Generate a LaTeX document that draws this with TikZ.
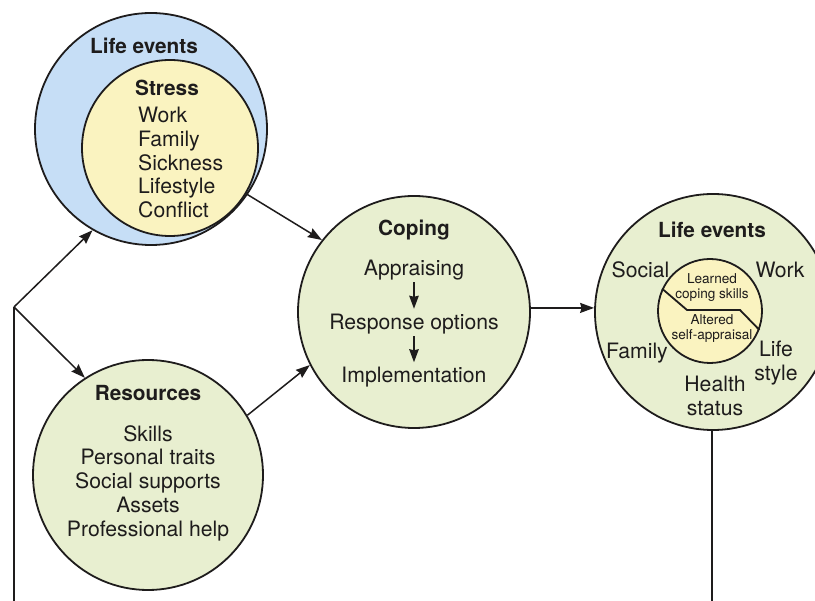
\documentclass[tikz,border=0pt]{standalone}
\usepackage{fontspec}
\setmainfont{TeX Gyre Heros}
\usetikzlibrary{arrows.meta}
\definecolor{lifeblue}{RGB}{198,222,246}
\definecolor{stressyellow}{RGB}{250,243,192}
\definecolor{copegreen}{RGB}{232,239,208}
\definecolor{ink}{RGB}{30,28,28}
\tikzset{
  ring/.style={circle, draw=ink, line width=1.8pt, inner sep=0pt},
  txt/.style={text=ink, inner sep=0pt, font=\fontsize{21.2}{23.75}\selectfont},
  head/.style={text=ink, inner sep=0pt, font=\fontsize{20.8}{23.75}\selectfont\bfseries},
  small/.style={text=ink, inner sep=0pt, align=center, font=\fontsize{13.6}{15.6}\selectfont},
  link/.style={draw=ink, line width=1.5pt},
  arr/.style={link, -{Stealth[length=14pt,width=10pt,inset=1.5pt]}},
  step arrow/.style={link, -{Stealth[length=13pt,width=9.5pt,inset=1pt]}},
}
\begin{document}
\begin{tikzpicture}[x=1pt,y=-1pt]
\useasboundingbox (0,0) rectangle (815,601);
\clip (0,0) rectangle (815,601);

% Life events with stress inside
\node[ring, fill=lifeblue, minimum size=232pt] (lifeO) at (151,129) {};
\node[ring, fill=stressyellow, minimum size=176pt] (stress) at (170,148) {};
\node[head] (lifeT) at (144,46) {Life events};
\node[head] (stressT) at (167,88) {Stress};
\node[txt, anchor=west, align=left] (stressL) at (138,162.5) {Work\\Family\\Sickness\\Lifestyle\\Conflict};

% Resources
\node[ring, fill=copegreen, minimum size=230pt] (res) at (148,475) {};
\node[head] (resT) at (148,393) {Resources};
\node[txt, anchor=north, align=center] (resL) at (148,425) {Skills\\Personal traits\\Social supports\\Assets\\Professional help};

% Coping
\node[ring, fill=copegreen, minimum size=232pt] (coping) at (414,312) {};
\node[head] (copT) at (414,230) {Coping};
\node[txt, inner sep=2pt] (appr) at (414,270) {Appraising};
\node[txt, inner sep=2pt] (resp) at (414,324) {Response options};
\node[txt, inner sep=2pt] (impl) at (414,377) {Implementation};
\draw[step arrow, shorten >=3pt] (appr) -- (resp);
\draw[step arrow, shorten >=2.5pt] (resp) -- (impl);

% Outcome: life events around learned skills
\node[ring, fill=copegreen, minimum size=236pt] (life2) at (713,312) {};
\node[ring, fill=stressyellow, minimum size=104pt] (inner) at (710,311) {};
\draw[link, line width=1.8pt] (inner.155) -- (687,310) -- (740,310) -- (inner.-21);
\node[small, anchor=north] (learned) at (712,273) {Learned\\coping skills};
\node[small, anchor=north] (altered) at (712,314) {Altered\\self-appraisal};
\node[head] (life2T) at (712,230) {Life events};
\node[txt] (social) at (640.5,270) {Social};
\node[txt] (work) at (780,270) {Work};
\node[txt] (family) at (637,353) {Family};
\node[txt, anchor=north, align=center] (lstyle) at (776,341) {Life\\style};
\node[txt, anchor=north, align=center] (health) at (715,376) {Health\\status};

% Connectors
\coordinate (leftEnd) at (14,601);
\coordinate (split) at (14,307);
\coordinate (rightEnd) at (712,601);
\draw[link] (leftEnd) -- (split);
\draw[arr] (split) -- (lifeO.240);
\draw[arr] (split) -- (res.123);
\draw[arr] (stress.-31) -- (coping.142);
\draw[arr] (res.31) -- (coping.207);
\draw[arr] (coping.2) -- (coping.2 -| life2.west);
\draw[link] (life2.south -| rightEnd) -- (rightEnd);
\end{tikzpicture}
\end{document}
